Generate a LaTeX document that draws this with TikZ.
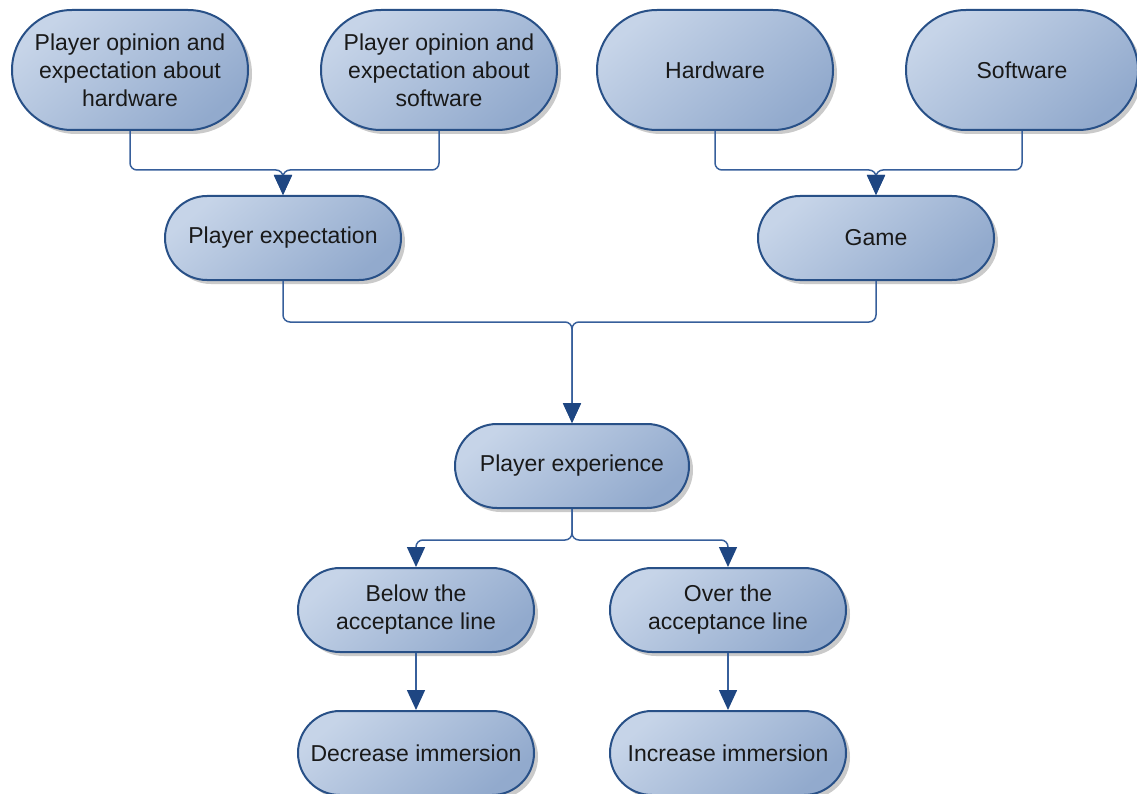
\documentclass[tikz,border=0pt]{standalone}
\usepackage{fontspec}
\setmainfont{Liberation Sans}
\usetikzlibrary{shadows,arrows.meta}
\definecolor{bordc}{RGB}{40,80,135}
\definecolor{filla}{RGB}{198,212,232}
\definecolor{fillb}{RGB}{146,170,205}
\definecolor{linec}{RGB}{55,95,155}
\definecolor{arrc}{RGB}{30,70,130}
\definecolor{txtc}{RGB}{25,25,25}
\tikzset{
  box/.style={draw=bordc, line width=2pt, top color=filla, bottom color=fillb, shading angle=40,
    rounded corners=#1, inner sep=0pt, align=center, text=txtc,
    font=\fontsize{23}{28}\selectfont,
    drop shadow={shadow xshift=4pt, shadow yshift=-4pt, opacity=0.35, fill=black!60}},
  bigbox/.style={box=60pt, minimum width=236pt, minimum height=120pt},
  smallbox/.style={box=42pt, minimum width=236pt, minimum height=84pt},
  conn/.style={draw=linec, line width=1.5pt, rounded corners=7pt,
    -{Triangle[length=20pt,width=18pt,fill=arrc,color=arrc]}}
}
\begin{document}
\begin{tikzpicture}[x=1pt,y=-1pt]
\useasboundingbox (0,0) rectangle (1137,794);
\node[bigbox] (oh) at (130,70) {Player opinion and\\expectation about\\hardware};
\node[bigbox] (os) at (439,70) {Player opinion and\\expectation about\\software};
\node[bigbox] (hw) at (715,70) {Hardware};
\node[bigbox, minimum width=232pt] (sw) at (1022,70) {Software};
\node[smallbox] (pe) at (283,238) {Player expectation};
\node[smallbox] (gm) at (876,238) {Game};
\node[smallbox, minimum width=234pt] (px) at (572,466) {Player experience};
\node[smallbox] (bl) at (416,610) {Below the\\acceptance line};
\node[smallbox] (ol) at (728,610) {Over the\\acceptance line};
\node[smallbox] (di) at (416,753) {Decrease immersion};
\node[smallbox] (ii) at (728,753) {Increase immersion};
\coordinate (j1) at (283,170);
\coordinate (j2) at (876,170);
\coordinate (j3) at (572,322);
\coordinate (j4) at (572,540);
\draw[conn] (oh.south) |- (j1) -- (pe.north);
\draw[conn] (os.south) |- (j1) -- (pe.north);
\draw[conn] (hw.south) |- (j2) -- (gm.north);
\draw[conn] (sw.south) |- (j2) -- (gm.north);
\draw[conn] (pe.south) |- (j3) -- (px.north);
\draw[conn] (gm.south) |- (j3) -- (px.north);
\draw[conn] (px.south) -- (j4) -| (bl.north);
\draw[conn] (px.south) -- (j4) -| (ol.north);
\draw[conn] (bl.south) -- (di.north);
\draw[conn] (ol.south) -- (ii.north);
\end{tikzpicture}
\end{document}
